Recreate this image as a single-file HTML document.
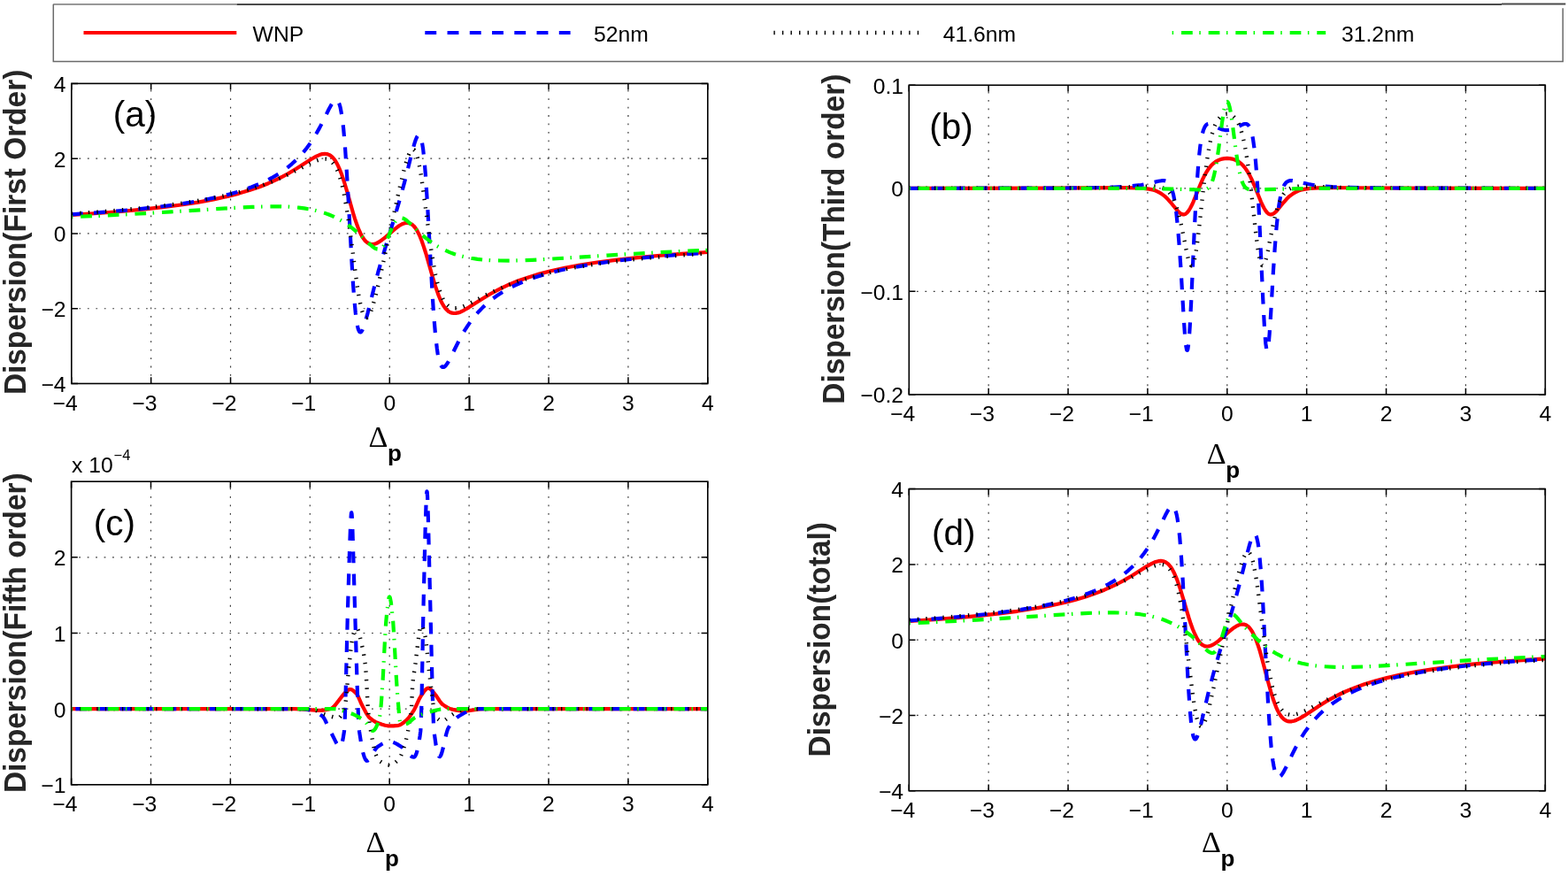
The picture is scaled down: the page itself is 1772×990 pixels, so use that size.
<!DOCTYPE html><html><head><meta charset="utf-8"><title>Dispersion</title><style>html,body{margin:0;padding:0;background:#fff;}svg{display:block;}</style></head><body>
<svg width="1772" height="990" viewBox="0 0 1772 990" font-family="&quot;Liberation Sans&quot;, Arial, Helvetica, sans-serif">
<rect width="1772" height="990" fill="#fff"/>
<g id="legend">
<path d="M60.3 4.9 H267.5" stroke="#8a8a8a" stroke-width="1.6" fill="none"/>
<path d="M267.5 4.9 H1697" stroke="#4a4a4a" stroke-width="2" fill="none"/>
<path d="M1697 4.5 H1769.3" stroke="#4a4a4a" stroke-width="2" fill="none"/>
<path d="M60.3 4.8 V69.4 H1766.2 V9.3" stroke="#6a6a6a" stroke-width="1.5" fill="none"/>
<path d="M94.5 37 H267.3" stroke="#f00" stroke-width="4.2" fill="none"/>
<path d="M480.3 37 H644.6" stroke="#00f" stroke-width="4.2" fill="none" stroke-dasharray="12.9 12.35"/>
<path d="M874.4 37 H1046" stroke="#000" stroke-width="4.4" fill="none" stroke-dasharray="1.4 8.15"/>
<path d="M1324.65 37 H1498.2" stroke="#0f0" stroke-width="4.2" fill="none" stroke-dasharray="1.5 8.9 12.7 7.55"/>
<text transform="translate(285.60,46.60) scale(1.03,1)" font-size="24">WNP</text>
<text transform="translate(671.00,46.60) scale(1.03,1)" font-size="24">52nm</text>
<text transform="translate(1065.70,46.60) scale(1.03,1)" font-size="24">41.6nm</text>
<text transform="translate(1516.00,46.60) scale(1.03,1)" font-size="24">31.2nm</text>
</g>
<g id="axa">
<path d="M170.68 94.40 V433.50 M260.55 94.40 V433.50 M350.43 94.40 V433.50 M440.30 94.40 V433.50 M530.17 94.40 V433.50 M620.05 94.40 V433.50 M709.92 94.40 V433.50" stroke="#3a3a3a" stroke-width="1.2" fill="none" stroke-dasharray="1.8 7.65" stroke-dashoffset="2.1"/>
<path d="M80.80 348.73 H799.80 M80.80 263.95 H799.80 M80.80 179.17 H799.80" stroke="#3a3a3a" stroke-width="1.2" fill="none" stroke-dasharray="1.8 7.65" stroke-dashoffset="0.8"/>
<path d="M80.80 433.50 v-7.2 M80.80 94.40 v7.2 M170.68 433.50 v-7.2 M170.68 94.40 v7.2 M260.55 433.50 v-7.2 M260.55 94.40 v7.2 M350.43 433.50 v-7.2 M350.43 94.40 v7.2 M440.30 433.50 v-7.2 M440.30 94.40 v7.2 M530.17 433.50 v-7.2 M530.17 94.40 v7.2 M620.05 433.50 v-7.2 M620.05 94.40 v7.2 M709.92 433.50 v-7.2 M709.92 94.40 v7.2 M799.80 433.50 v-7.2 M799.80 94.40 v7.2 M80.80 433.50 h7.2 M799.80 433.50 h-7.2 M80.80 348.73 h7.2 M799.80 348.73 h-7.2 M80.80 263.95 h7.2 M799.80 263.95 h-7.2 M80.80 179.17 h7.2 M799.80 179.17 h-7.2 M80.80 94.40 h7.2 M799.80 94.40 h-7.2" stroke="#000" stroke-width="1.5" fill="none"/>
<text transform="translate(87.67,463.50) scale(1.03,1)" font-size="24" text-anchor="end">−4</text>
<text transform="translate(177.55,463.50) scale(1.03,1)" font-size="24" text-anchor="end">−3</text>
<text transform="translate(267.42,463.50) scale(1.03,1)" font-size="24" text-anchor="end">−2</text>
<text transform="translate(357.30,463.50) scale(1.03,1)" font-size="24" text-anchor="end">−1</text>
<text transform="translate(447.17,463.50) scale(1.03,1)" font-size="24" text-anchor="end">0</text>
<text transform="translate(537.05,463.50) scale(1.03,1)" font-size="24" text-anchor="end">1</text>
<text transform="translate(626.92,463.50) scale(1.03,1)" font-size="24" text-anchor="end">2</text>
<text transform="translate(716.80,463.50) scale(1.03,1)" font-size="24" text-anchor="end">3</text>
<text transform="translate(806.67,463.50) scale(1.03,1)" font-size="24" text-anchor="end">4</text>
<text transform="translate(74.60,442.90) scale(1.03,1)" font-size="24" text-anchor="end">−4</text>
<text transform="translate(74.60,358.12) scale(1.03,1)" font-size="24" text-anchor="end">−2</text>
<text transform="translate(74.60,273.35) scale(1.03,1)" font-size="24" text-anchor="end">0</text>
<text transform="translate(74.60,188.57) scale(1.03,1)" font-size="24" text-anchor="end">2</text>
<text transform="translate(74.60,103.80) scale(1.03,1)" font-size="24" text-anchor="end">4</text>
</g>
<g id="curvesa">
<path d="M80.8 242.9 L110.1 241.0 L136.5 239.0 L161.3 236.7 L183.9 234.2 L204.7 231.5 L223.8 228.6 L241.3 225.4 L257.1 221.9 L270.0 218.6 L281.8 215.1 L293.1 211.2 L303.2 207.2 L308.9 204.7 L314.3 202.1 L319.7 199.4 L325.1 196.5 L334.7 190.7 L351.5 180.0 L357.5 176.6 L361.1 175.1 L364.3 174.1 L367.2 173.9 L368.6 174.0 L369.9 174.2 L371.8 174.9 L373.6 175.9 L375.3 177.3 L377.0 179.1 L378.6 181.2 L380.2 183.8 L381.8 186.9 L383.4 190.3 L386.2 197.3 L389.1 206.0 L391.9 215.4 L398.9 240.2 L401.0 247.1 L403.0 252.9 L405.2 258.9 L407.4 263.7 L409.5 267.7 L411.7 270.9 L413.1 272.5 L414.5 273.8 L416.0 274.8 L417.4 275.5 L418.9 275.9 L420.5 276.0 L422.2 275.9 L423.9 275.5 L425.6 274.9 L427.4 274.0 L431.3 271.4 L435.6 268.1 L443.9 260.8 L447.4 257.9 L450.9 255.3 L454.0 253.5 L455.8 252.7 L457.4 252.2 L459.1 251.9 L460.6 251.9 L462.1 252.1 L463.5 252.6 L464.9 253.3 L466.3 254.3 L467.6 255.5 L468.9 257.0 L470.2 258.8 L471.5 260.9 L474.1 266.0 L476.6 272.3 L478.8 278.6 L481.2 286.0 L489.0 313.5 L492.0 323.4 L495.2 332.6 L498.1 339.7 L499.8 343.0 L501.5 345.9 L503.2 348.4 L505.0 350.3 L506.8 351.9 L508.7 353.0 L510.7 353.7 L512.8 354.0 L515.2 353.9 L517.9 353.4 L520.7 352.4 L524.0 350.8 L529.5 347.6 L545.4 337.5 L554.5 332.0 L564.6 326.6 L575.1 321.7 L585.8 317.3 L597.1 313.4 L609.5 309.6 L622.4 306.3 L638.2 302.8 L655.6 299.5 L674.8 296.5 L695.6 293.8 L718.1 291.3 L742.9 289.0 L770.0 286.9 L799.8 285.0" stroke="#f00" stroke-width="4.2" fill="none" stroke-linejoin="round"/>
<path d="M80.8 242.3 L119.7 239.6 L137.7 238.1 L154.6 236.5 L170.3 234.8 L185.5 233.0 L199.6 231.1 L212.6 229.2 L225.0 227.0 L236.2 224.8 L247.5 222.4 L257.6 219.9 L267.2 217.2 L276.2 214.3 L284.7 211.3 L293.1 207.9 L300.4 204.5 L306.8 201.2 L313.0 197.6 L319.0 193.8 L324.5 189.7 L329.8 185.3 L334.8 180.7 L339.6 175.8 L343.2 171.6 L346.7 167.2 L350.2 162.5 L353.4 157.6 L357.3 151.3 L361.2 144.4 L364.8 137.4 L371.6 123.5 L374.4 118.4 L376.0 115.8 L377.4 114.1 L378.7 113.1 L379.3 112.9 L379.9 112.9 L380.5 113.0 L381.2 113.4 L381.8 114.1 L382.3 115.0 L383.4 117.4 L384.5 120.9 L385.4 125.5 L386.4 131.1 L387.3 137.8 L388.2 145.8 L389.9 165.1 L391.6 190.4 L393.3 218.7 L397.7 298.9 L399.0 320.5 L400.3 337.5 L401.8 353.8 L402.6 360.0 L403.4 365.4 L404.2 369.4 L405.0 372.5 L405.9 374.5 L406.4 375.1 L406.8 375.4 L407.5 375.4 L408.1 375.0 L408.8 374.2 L409.5 373.0 L411.1 369.1 L412.9 363.4 L415.6 353.6 L423.2 323.4 L427.3 307.7 L433.3 287.0 L446.0 245.2 L451.7 225.8 L457.4 204.9 L465.9 171.0 L468.5 161.8 L469.6 158.5 L470.6 156.0 L471.5 154.2 L472.3 153.0 L473.1 152.5 L473.9 152.6 L474.6 153.3 L475.3 154.8 L476.1 157.0 L476.8 160.1 L478.2 168.9 L479.5 181.1 L480.9 197.3 L483.2 233.6 L488.7 333.9 L490.4 358.6 L492.0 377.5 L493.8 393.6 L494.7 399.9 L495.6 404.8 L496.6 408.8 L497.7 411.8 L498.9 413.9 L499.5 414.5 L500.1 414.9 L500.6 415.0 L501.2 415.0 L502.4 414.4 L503.8 413.1 L505.3 411.1 L506.8 408.5 L508.7 405.0 L519.0 384.3 L522.0 378.8 L525.0 373.6 L528.9 367.6 L532.9 361.9 L537.0 356.7 L541.4 351.7 L546.1 346.9 L551.0 342.3 L556.3 338.0 L561.8 334.0 L567.7 330.2 L573.9 326.6 L580.7 323.1 L587.5 320.0 L595.9 316.6 L604.4 313.6 L613.4 310.7 L623.0 308.0 L633.1 305.5 L644.4 303.1 L655.6 300.9 L668.0 298.7 L681.0 296.8 L695.1 294.9 L710.3 293.1 L726.0 291.4 L742.9 289.8 L760.9 288.3 L799.8 285.6" stroke="#00f" stroke-width="4.2" fill="none" stroke-linejoin="round" stroke-dasharray="12.9 12.35"/>
<path d="M80.8 241.5 L107.8 239.7 L133.2 237.7 L156.3 235.6 L177.7 233.3 L197.9 230.8 L216.5 228.1 L234.0 225.1 L249.7 222.0 L262.1 219.2 L274.0 216.2 L285.2 213.0 L295.9 209.5 L308.4 204.8 L320.5 199.6 L331.5 194.4 L350.3 184.7 L357.0 181.7 L361.1 180.3 L364.6 179.6 L367.7 179.6 L369.1 179.8 L370.5 180.2 L371.8 180.7 L373.0 181.4 L375.3 183.3 L377.4 185.8 L379.5 189.0 L381.4 193.0 L383.2 197.8 L385.0 203.4 L386.7 209.8 L388.3 216.7 L389.8 224.7 L391.4 233.6 L393.0 243.8 L396.0 264.5 L402.6 315.5 L404.5 328.1 L406.1 338.0 L408.2 347.8 L409.2 351.4 L410.2 354.3 L411.2 356.6 L412.2 358.1 L413.2 359.0 L413.7 359.1 L414.3 359.1 L414.8 358.9 L415.4 358.5 L416.5 357.3 L417.7 355.3 L418.9 352.5 L420.2 349.0 L421.6 344.6 L424.8 333.1 L427.7 321.0 L431.3 305.0 L451.0 215.1 L454.7 199.5 L457.6 188.0 L460.3 179.2 L461.5 175.9 L462.6 173.3 L463.7 171.2 L464.8 169.8 L465.8 169.0 L466.8 168.8 L467.8 169.2 L468.8 170.2 L469.8 172.0 L470.7 174.3 L471.6 177.3 L472.6 181.1 L474.6 190.7 L476.2 200.4 L478.0 212.7 L484.6 263.1 L487.5 283.8 L490.7 302.8 L492.2 310.7 L493.8 317.7 L495.5 324.2 L497.3 329.8 L499.1 334.7 L501.0 338.7 L503.1 342.0 L505.3 344.6 L507.6 346.5 L508.8 347.2 L510.1 347.7 L511.5 348.1 L512.9 348.3 L516.0 348.3 L519.5 347.6 L523.6 346.2 L530.3 343.2 L549.1 333.5 L560.1 328.3 L572.2 323.1 L584.7 318.4 L595.4 314.9 L606.6 311.7 L618.5 308.7 L630.9 305.9 L646.6 302.8 L664.1 299.8 L682.7 297.1 L702.9 294.6 L724.3 292.3 L747.4 290.2 L772.8 288.2 L799.8 286.4" stroke="#000" stroke-width="4.4" fill="none" stroke-linejoin="round" stroke-dasharray="1.4 8.15"/>
<path d="M80.8 245.2 L119.7 243.5 L157.4 241.5 L193.4 239.4 L257.6 235.3 L284.7 233.9 L300.4 233.4 L314.3 233.3 L326.3 233.7 L337.3 234.6 L343.7 235.4 L349.8 236.4 L355.6 237.6 L361.2 239.0 L366.5 240.6 L371.7 242.5 L376.7 244.6 L381.5 247.0 L385.9 249.4 L390.3 252.1 L394.5 255.1 L398.7 258.3 L405.4 264.0 L417.4 275.5 L421.5 279.1 L423.2 280.3 L424.9 281.1 L426.3 281.6 L427.7 281.8 L428.6 281.7 L429.5 281.5 L431.2 280.5 L433.0 278.8 L434.6 276.4 L436.0 273.9 L437.5 270.7 L443.8 255.6 L445.4 252.4 L447.0 249.9 L448.5 248.1 L450.1 246.9 L451.7 246.2 L453.4 246.1 L454.9 246.5 L456.5 247.1 L458.3 248.2 L460.2 249.7 L463.6 252.7 L471.8 260.7 L476.1 264.7 L480.7 268.7 L485.3 272.2 L489.4 275.2 L493.7 277.9 L498.1 280.4 L502.5 282.6 L508.1 285.1 L513.8 287.2 L519.8 289.0 L526.1 290.6 L532.6 291.8 L539.6 292.9 L547.0 293.7 L554.9 294.2 L564.8 294.5 L575.7 294.6 L587.5 294.3 L601.6 293.8 L624.7 292.5 L686.6 288.6 L721.5 286.5 L759.8 284.5 L799.8 282.7" stroke="#0f0" stroke-width="4.2" fill="none" stroke-linejoin="round" stroke-dasharray="1.5 8.9 12.7 7.55"/>
</g>
<rect x="80.80" y="94.40" width="719.00" height="339.10" fill="none" stroke="#000" stroke-width="1.6"/>
<text transform="translate(28.7,262.4) scale(1.025,1) rotate(-90)" font-size="33.4" font-weight="bold" text-anchor="middle" fill="#262626">Dispersion(First Order)</text>
<text x="127.7" y="142.5" font-size="40.5">(a)</text>
<text x="416.6" y="504.5" font-size="34" font-family="&quot;Liberation Serif&quot;, &quot;Times New Roman&quot;, serif">Δ</text>
<text x="438.1" y="521.0" font-size="26" font-weight="bold">p</text>
<g id="axb">
<path d="M1117.17 96.25 V445.90 M1207.05 96.25 V445.90 M1296.92 96.25 V445.90 M1386.80 96.25 V445.90 M1476.67 96.25 V445.90 M1566.55 96.25 V445.90 M1656.42 96.25 V445.90" stroke="#3a3a3a" stroke-width="1.2" fill="none" stroke-dasharray="1.8 7.65" stroke-dashoffset="2.1"/>
<path d="M1027.30 329.35 H1746.30 M1027.30 212.80 H1746.30" stroke="#3a3a3a" stroke-width="1.2" fill="none" stroke-dasharray="1.8 7.65" stroke-dashoffset="0.8"/>
<path d="M1027.30 445.90 v-7.2 M1027.30 96.25 v7.2 M1117.17 445.90 v-7.2 M1117.17 96.25 v7.2 M1207.05 445.90 v-7.2 M1207.05 96.25 v7.2 M1296.92 445.90 v-7.2 M1296.92 96.25 v7.2 M1386.80 445.90 v-7.2 M1386.80 96.25 v7.2 M1476.67 445.90 v-7.2 M1476.67 96.25 v7.2 M1566.55 445.90 v-7.2 M1566.55 96.25 v7.2 M1656.42 445.90 v-7.2 M1656.42 96.25 v7.2 M1746.30 445.90 v-7.2 M1746.30 96.25 v7.2 M1027.30 445.90 h7.2 M1746.30 445.90 h-7.2 M1027.30 329.35 h7.2 M1746.30 329.35 h-7.2 M1027.30 212.80 h7.2 M1746.30 212.80 h-7.2 M1027.30 96.25 h7.2 M1746.30 96.25 h-7.2" stroke="#000" stroke-width="1.5" fill="none"/>
<text transform="translate(1034.17,475.90) scale(1.03,1)" font-size="24" text-anchor="end">−4</text>
<text transform="translate(1124.05,475.90) scale(1.03,1)" font-size="24" text-anchor="end">−3</text>
<text transform="translate(1213.92,475.90) scale(1.03,1)" font-size="24" text-anchor="end">−2</text>
<text transform="translate(1303.80,475.90) scale(1.03,1)" font-size="24" text-anchor="end">−1</text>
<text transform="translate(1393.67,475.90) scale(1.03,1)" font-size="24" text-anchor="end">0</text>
<text transform="translate(1483.55,475.90) scale(1.03,1)" font-size="24" text-anchor="end">1</text>
<text transform="translate(1573.42,475.90) scale(1.03,1)" font-size="24" text-anchor="end">2</text>
<text transform="translate(1663.30,475.90) scale(1.03,1)" font-size="24" text-anchor="end">3</text>
<text transform="translate(1753.17,475.90) scale(1.03,1)" font-size="24" text-anchor="end">4</text>
<text transform="translate(1021.10,455.30) scale(1.03,1)" font-size="24" text-anchor="end">−0.2</text>
<text transform="translate(1021.10,338.75) scale(1.03,1)" font-size="24" text-anchor="end">−0.1</text>
<text transform="translate(1021.10,222.20) scale(1.03,1)" font-size="24" text-anchor="end">0</text>
<text transform="translate(1021.10,105.65) scale(1.03,1)" font-size="24" text-anchor="end">0.1</text>
</g>
<g id="curvesb">
<path d="M1027.3 212.8 L1183.8 212.6 L1272.0 212.1 L1283.9 212.3 L1292.4 212.8 L1298.6 213.6 L1303.7 214.8 L1306.1 215.6 L1308.3 216.6 L1310.4 217.7 L1312.4 218.9 L1316.1 221.6 L1319.7 225.1 L1323.0 228.8 L1329.5 236.8 L1332.2 239.7 L1333.7 241.0 L1335.2 241.8 L1336.5 242.3 L1337.8 242.4 L1338.8 242.2 L1339.7 241.8 L1341.5 240.4 L1343.3 238.2 L1345.2 235.0 L1346.9 231.8 L1348.7 227.8 L1355.9 210.0 L1359.2 202.4 L1361.1 198.6 L1363.0 195.2 L1364.8 192.3 L1366.7 189.6 L1368.8 187.1 L1371.0 184.9 L1373.3 183.1 L1375.8 181.6 L1378.4 180.4 L1381.1 179.6 L1383.9 179.1 L1386.8 178.9 L1389.7 179.1 L1392.5 179.6 L1395.2 180.4 L1397.8 181.6 L1400.2 183.1 L1402.6 184.9 L1404.8 187.1 L1406.9 189.6 L1408.8 192.3 L1410.6 195.2 L1412.5 198.6 L1414.4 202.4 L1417.7 210.0 L1424.9 227.8 L1426.7 231.8 L1428.4 235.0 L1430.3 238.2 L1432.1 240.4 L1433.9 241.8 L1434.8 242.2 L1435.8 242.4 L1437.1 242.3 L1438.4 241.8 L1439.9 241.0 L1441.4 239.7 L1444.1 236.8 L1450.6 228.8 L1453.9 225.1 L1457.5 221.6 L1461.2 218.9 L1463.2 217.7 L1465.3 216.6 L1467.5 215.6 L1469.9 214.8 L1475.0 213.6 L1481.2 212.8 L1489.7 212.3 L1501.6 212.1 L1589.8 212.6 L1746.3 212.8" stroke="#f00" stroke-width="4.2" fill="none" stroke-linejoin="round"/>
<path d="M1027.3 212.8 L1185.0 212.6 L1222.1 212.4 L1247.5 211.9 L1258.7 211.5 L1268.3 211.1 L1276.6 210.5 L1283.9 209.7 L1289.7 209.0 L1295.1 208.0 L1300.3 206.9 L1309.2 204.8 L1312.9 204.2 L1314.6 204.1 L1316.1 204.2 L1317.4 204.6 L1318.6 205.2 L1319.6 205.8 L1320.4 206.6 L1322.1 208.8 L1323.5 211.7 L1324.8 215.5 L1326.1 220.1 L1327.2 225.8 L1328.3 232.4 L1329.3 240.2 L1331.1 257.6 L1332.9 280.4 L1334.6 305.4 L1337.7 359.0 L1339.0 377.9 L1339.7 386.0 L1340.4 391.7 L1341.0 394.9 L1341.3 395.7 L1341.7 395.9 L1342.0 395.5 L1342.4 394.3 L1343.1 389.3 L1343.9 381.1 L1344.7 369.1 L1346.2 340.6 L1349.4 268.4 L1351.0 236.0 L1352.7 206.7 L1354.4 183.6 L1355.4 173.4 L1356.4 164.8 L1357.5 157.7 L1358.7 151.8 L1359.9 147.2 L1361.3 143.9 L1362.0 142.6 L1362.8 141.6 L1363.6 140.8 L1364.5 140.2 L1365.3 140.0 L1366.1 139.9 L1368.1 140.2 L1370.5 141.2 L1376.8 144.6 L1379.6 145.8 L1381.5 146.4 L1383.3 146.8 L1385.1 147.1 L1386.9 147.2 L1390.1 146.9 L1393.3 146.0 L1396.9 144.5 L1402.7 141.4 L1404.6 140.6 L1406.6 140.0 L1408.2 140.0 L1409.2 140.3 L1410.1 140.8 L1410.9 141.7 L1411.7 142.7 L1413.1 145.7 L1414.4 149.8 L1415.3 153.5 L1416.1 157.7 L1417.6 168.4 L1419.0 182.1 L1420.4 199.4 L1421.8 220.5 L1423.1 245.6 L1427.3 338.7 L1428.8 366.8 L1429.6 379.3 L1430.4 388.5 L1431.2 394.1 L1431.5 395.4 L1431.9 395.9 L1432.3 395.7 L1432.6 394.9 L1433.2 391.7 L1433.9 386.0 L1434.6 377.9 L1435.9 359.0 L1439.0 305.4 L1440.7 280.4 L1442.5 257.6 L1444.3 240.2 L1445.3 232.4 L1446.4 225.8 L1447.5 220.1 L1448.8 215.5 L1450.1 211.7 L1451.5 208.8 L1453.2 206.6 L1454.0 205.8 L1455.0 205.2 L1456.2 204.6 L1457.5 204.2 L1459.0 204.1 L1460.7 204.2 L1464.4 204.8 L1473.3 206.9 L1478.5 208.0 L1483.9 209.0 L1489.7 209.7 L1497.0 210.5 L1505.3 211.1 L1514.9 211.5 L1526.1 211.9 L1551.5 212.4 L1588.6 212.6 L1746.3 212.8" stroke="#00f" stroke-width="4.2" fill="none" stroke-linejoin="round" stroke-dasharray="12.9 12.35"/>
<path d="M1027.3 212.8 L1157.9 212.7 L1221.6 212.4 L1259.4 211.9 L1299.6 210.5 L1303.4 210.5 L1306.6 210.7 L1309.4 211.1 L1311.9 211.7 L1314.6 212.6 L1316.9 213.8 L1319.1 215.3 L1321.1 217.3 L1323.0 219.6 L1324.8 222.4 L1326.4 225.6 L1328.0 229.3 L1329.4 233.1 L1330.8 237.5 L1333.5 248.0 L1336.0 259.4 L1340.8 283.4 L1342.7 292.0 L1343.8 295.7 L1344.8 298.2 L1345.7 299.7 L1346.2 300.0 L1346.6 300.2 L1347.3 299.9 L1348.0 299.0 L1348.6 297.7 L1349.3 295.7 L1350.6 290.1 L1352.0 282.0 L1353.2 273.3 L1354.5 262.7 L1359.8 214.4 L1362.4 193.2 L1363.8 182.8 L1365.2 173.7 L1366.6 165.6 L1368.1 158.6 L1369.7 151.8 L1371.5 146.1 L1373.2 141.3 L1375.2 137.3 L1377.3 134.1 L1379.5 131.7 L1380.8 130.7 L1382.0 130.0 L1383.3 129.4 L1384.7 129.0 L1386.2 128.8 L1387.8 128.8 L1389.4 129.1 L1390.9 129.6 L1392.4 130.4 L1393.7 131.4 L1395.0 132.6 L1396.3 134.1 L1397.5 135.8 L1398.6 137.7 L1400.8 142.3 L1402.7 147.9 L1404.6 154.7 L1406.2 161.9 L1407.8 170.3 L1409.3 179.7 L1410.9 190.8 L1413.7 213.3 L1419.2 263.4 L1421.7 282.3 L1423.0 290.1 L1424.3 295.5 L1424.9 297.4 L1425.5 298.9 L1426.1 299.8 L1426.8 300.1 L1427.2 300.1 L1427.7 299.8 L1428.7 298.4 L1429.7 295.8 L1430.8 292.2 L1432.8 283.4 L1437.6 259.4 L1440.1 248.0 L1442.8 237.5 L1444.2 233.1 L1445.7 229.1 L1447.2 225.5 L1448.9 222.3 L1450.6 219.5 L1452.5 217.2 L1454.5 215.3 L1456.7 213.8 L1459.0 212.6 L1461.7 211.7 L1464.2 211.1 L1467.0 210.7 L1470.2 210.5 L1474.0 210.5 L1514.2 211.9 L1552.0 212.4 L1615.7 212.7 L1746.3 212.8" stroke="#000" stroke-width="4.4" fill="none" stroke-linejoin="round" stroke-dasharray="1.4 8.15"/>
<path d="M1027.3 212.8 L1275.3 212.9 L1296.3 213.0 L1313.9 213.3 L1355.8 214.5 L1359.7 214.4 L1362.3 214.0 L1363.9 213.4 L1365.4 212.5 L1366.7 211.2 L1367.9 209.6 L1369.0 207.4 L1370.0 204.9 L1371.0 201.8 L1372.0 198.1 L1373.8 189.7 L1375.6 178.9 L1377.3 167.2 L1381.0 138.8 L1382.9 126.5 L1383.9 121.4 L1384.9 117.8 L1385.8 115.7 L1386.3 115.1 L1386.8 114.9 L1387.2 115.0 L1387.7 115.6 L1388.7 117.7 L1389.7 121.4 L1390.7 126.5 L1392.6 138.8 L1396.3 167.2 L1398.0 178.9 L1399.8 189.7 L1401.6 198.1 L1402.6 201.8 L1403.6 204.9 L1404.6 207.4 L1405.7 209.6 L1406.9 211.2 L1408.2 212.5 L1409.7 213.4 L1411.3 214.0 L1413.9 214.4 L1417.8 214.5 L1459.7 213.3 L1477.3 213.0 L1498.3 212.9 L1746.3 212.8" stroke="#0f0" stroke-width="4.2" fill="none" stroke-linejoin="round" stroke-dasharray="1.5 8.9 12.7 7.55"/>
</g>
<rect x="1027.30" y="96.25" width="719.00" height="349.65" fill="none" stroke="#000" stroke-width="1.6"/>
<text transform="translate(953.9,270.2) scale(1.025,1) rotate(-90)" font-size="33.4" font-weight="bold" text-anchor="middle" fill="#262626">Dispersion(Third order)</text>
<text x="1050.2" y="157.3" font-size="40.5">(b)</text>
<text x="1363.8" y="523.6" font-size="34" font-family="&quot;Liberation Serif&quot;, &quot;Times New Roman&quot;, serif">Δ</text>
<text x="1385.3" y="540.1" font-size="26" font-weight="bold">p</text>
<g id="axc">
<path d="M170.50 544.20 V886.80 M260.40 544.20 V886.80 M350.30 544.20 V886.80 M440.20 544.20 V886.80 M530.10 544.20 V886.80 M620.00 544.20 V886.80 M709.90 544.20 V886.80" stroke="#3a3a3a" stroke-width="1.2" fill="none" stroke-dasharray="1.8 7.65" stroke-dashoffset="2.1"/>
<path d="M80.60 801.15 H799.80 M80.60 715.50 H799.80 M80.60 629.85 H799.80" stroke="#3a3a3a" stroke-width="1.2" fill="none" stroke-dasharray="1.8 7.65" stroke-dashoffset="0.8"/>
<path d="M80.60 886.80 v-7.2 M80.60 544.20 v7.2 M170.50 886.80 v-7.2 M170.50 544.20 v7.2 M260.40 886.80 v-7.2 M260.40 544.20 v7.2 M350.30 886.80 v-7.2 M350.30 544.20 v7.2 M440.20 886.80 v-7.2 M440.20 544.20 v7.2 M530.10 886.80 v-7.2 M530.10 544.20 v7.2 M620.00 886.80 v-7.2 M620.00 544.20 v7.2 M709.90 886.80 v-7.2 M709.90 544.20 v7.2 M799.80 886.80 v-7.2 M799.80 544.20 v7.2 M80.60 886.80 h7.2 M799.80 886.80 h-7.2 M80.60 801.15 h7.2 M799.80 801.15 h-7.2 M80.60 715.50 h7.2 M799.80 715.50 h-7.2 M80.60 629.85 h7.2 M799.80 629.85 h-7.2" stroke="#000" stroke-width="1.5" fill="none"/>
<text transform="translate(87.47,916.80) scale(1.03,1)" font-size="24" text-anchor="end">−4</text>
<text transform="translate(177.37,916.80) scale(1.03,1)" font-size="24" text-anchor="end">−3</text>
<text transform="translate(267.27,916.80) scale(1.03,1)" font-size="24" text-anchor="end">−2</text>
<text transform="translate(357.17,916.80) scale(1.03,1)" font-size="24" text-anchor="end">−1</text>
<text transform="translate(447.07,916.80) scale(1.03,1)" font-size="24" text-anchor="end">0</text>
<text transform="translate(536.97,916.80) scale(1.03,1)" font-size="24" text-anchor="end">1</text>
<text transform="translate(626.87,916.80) scale(1.03,1)" font-size="24" text-anchor="end">2</text>
<text transform="translate(716.77,916.80) scale(1.03,1)" font-size="24" text-anchor="end">3</text>
<text transform="translate(806.67,916.80) scale(1.03,1)" font-size="24" text-anchor="end">4</text>
<text transform="translate(74.40,896.20) scale(1.03,1)" font-size="24" text-anchor="end">−1</text>
<text transform="translate(74.40,810.55) scale(1.03,1)" font-size="24" text-anchor="end">0</text>
<text transform="translate(74.40,724.90) scale(1.03,1)" font-size="24" text-anchor="end">1</text>
<text transform="translate(74.40,639.25) scale(1.03,1)" font-size="24" text-anchor="end">2</text>
</g>
<g id="curvesc">
<path d="M80.6 801.1 L332.8 801.2 L339.5 801.4 L355.6 802.7 L360.2 802.9 L363.3 802.8 L367.0 802.4 L370.8 801.6 L374.4 800.7 L375.8 799.9 L377.2 798.7 L378.7 797.0 L387.9 785.1 L389.5 783.3 L392.2 780.9 L393.6 779.8 L394.8 779.1 L395.9 779.0 L397.4 779.3 L399.1 780.4 L401.3 782.4 L403.4 784.7 L405.1 787.8 L408.8 796.3 L413.8 805.7 L415.1 807.9 L416.3 809.6 L417.3 810.8 L418.7 812.0 L421.7 814.3 L424.7 816.1 L427.5 817.3 L431.8 818.8 L435.2 819.8 L438.1 820.3 L440.3 820.4 L444.6 820.3 L450.2 819.8 L451.3 819.5 L452.5 819.0 L454.1 818.1 L455.9 816.8 L459.6 813.6 L460.9 812.3 L462.3 810.6 L464.0 808.3 L468.1 802.1 L469.7 798.8 L473.6 790.3 L475.5 786.9 L479.0 781.8 L480.7 779.6 L482.4 778.2 L483.2 777.8 L483.9 777.7 L484.8 777.8 L485.7 778.3 L486.8 779.1 L487.9 780.2 L493.0 786.4 L497.0 792.5 L498.4 794.3 L499.7 795.7 L501.4 796.9 L503.6 798.4 L505.7 799.6 L507.8 800.6 L509.9 801.4 L511.9 801.9 L515.5 802.6 L520.9 803.4 L523.9 803.5 L527.7 803.3 L541.8 801.5 L547.7 801.2 L799.8 801.1" stroke="#f00" stroke-width="4.2" fill="none" stroke-linejoin="round"/>
<path d="M80.6 801.1 L341.4 801.2 L345.5 801.4 L347.8 801.9 L350.2 802.5 L355.1 804.2 L357.9 805.5 L360.7 807.0 L363.8 808.9 L364.7 809.7 L366.0 811.4 L367.5 814.0 L372.2 824.2 L374.9 829.2 L378.7 836.9 L380.3 840.0 L381.6 841.9 L382.8 843.2 L383.9 843.9 L384.5 844.0 L384.8 843.8 L385.5 842.9 L386.2 841.0 L386.9 838.3 L387.7 834.5 L389.0 826.4 L389.6 818.3 L390.6 785.2 L393.0 688.2 L395.2 617.5 L396.3 588.6 L396.8 581.5 L397.0 579.8 L397.2 579.3 L397.6 581.0 L397.9 585.3 L398.5 601.6 L403.7 776.3 L405.1 813.0 L405.6 821.7 L406.1 827.0 L408.3 840.9 L409.3 846.5 L410.4 851.1 L411.7 855.5 L413.0 858.4 L413.7 859.2 L414.2 859.7 L414.8 859.8 L415.6 859.6 L416.9 858.7 L418.3 857.0 L419.8 854.6 L423.9 847.3 L425.2 845.5 L426.3 844.3 L431.0 841.2 L434.7 839.3 L436.4 838.6 L437.9 838.2 L439.5 838.0 L440.9 838.0 L443.3 838.5 L445.9 839.5 L448.6 840.9 L454.0 844.2 L455.2 845.1 L456.5 846.3 L461.7 852.0 L464.0 854.1 L465.2 855.0 L466.4 855.5 L467.6 855.7 L468.3 855.5 L468.8 855.0 L469.3 854.3 L470.3 852.3 L471.3 849.2 L472.3 845.2 L473.4 839.1 L474.6 831.6 L475.3 826.2 L475.6 821.8 L476.5 792.7 L478.4 690.3 L480.7 594.4 L481.7 564.6 L482.1 557.6 L482.4 555.3 L482.6 555.6 L482.8 556.9 L483.1 561.5 L483.8 582.9 L488.6 777.6 L489.3 801.4 L489.9 817.0 L490.5 826.7 L491.7 835.4 L492.7 842.4 L493.7 847.4 L494.6 851.1 L495.5 853.6 L495.9 854.4 L496.4 854.9 L496.7 855.1 L497.0 855.1 L497.8 854.4 L498.5 853.0 L499.3 850.7 L500.8 845.1 L504.2 830.0 L505.8 824.6 L506.7 822.6 L509.8 817.9 L511.9 815.2 L514.1 812.9 L516.4 810.9 L518.7 809.2 L524.3 806.0 L528.5 803.8 L532.3 802.3 L535.8 801.5 L539.1 801.2 L799.8 801.1" stroke="#00f" stroke-width="4.2" fill="none" stroke-linejoin="round" stroke-dasharray="12.9 12.35" stroke-dashoffset="20.51"/>
<path d="M80.6 801.1 L350.6 801.2 L352.8 801.4 L355.3 802.2 L357.6 803.2 L364.6 806.5 L370.9 808.8 L379.2 811.0 L381.3 811.4 L382.8 811.4 L383.7 810.9 L384.6 809.9 L385.6 808.5 L386.5 806.6 L388.5 801.3 L390.5 794.2 L390.9 791.2 L391.4 786.4 L393.7 759.0 L396.3 735.4 L397.8 724.2 L398.8 718.9 L399.7 715.7 L400.8 713.2 L401.8 711.6 L402.6 710.6 L403.4 710.4 L404.0 710.9 L404.7 712.2 L405.4 714.4 L406.3 717.6 L409.7 732.3 L410.9 738.2 L411.9 744.5 L413.0 753.2 L413.7 760.7 L415.7 798.4 L416.1 803.6 L416.6 809.0 L417.6 817.0 L418.7 824.2 L421.7 840.9 L423.3 848.4 L424.2 851.5 L425.9 855.8 L427.1 858.3 L428.3 859.7 L432.0 862.1 L433.7 863.0 L435.5 863.7 L437.2 864.2 L438.9 864.5 L440.5 864.5 L441.8 864.3 L443.1 863.9 L444.4 863.3 L447.1 861.4 L448.9 859.8 L450.8 857.7 L451.8 856.7 L452.5 855.4 L454.1 851.9 L456.0 846.4 L458.6 837.3 L460.3 830.4 L463.3 814.3 L464.6 804.9 L465.1 798.3 L466.2 774.3 L467.0 766.4 L469.4 750.6 L472.5 724.5 L473.8 715.5 L474.4 711.9 L475.0 709.1 L475.6 707.5 L475.9 707.1 L476.1 706.9 L476.6 707.1 L477.2 707.8 L478.3 710.7 L480.0 716.8 L481.2 722.7 L482.2 731.2 L484.4 753.5 L486.6 772.6 L489.4 794.8 L490.6 802.1 L492.0 807.8 L492.6 809.6 L493.2 810.7 L494.4 812.0 L495.9 813.2 L497.2 814.1 L498.5 814.6 L499.5 814.8 L500.5 814.8 L501.3 814.6 L502.3 814.2 L503.8 813.1 L507.8 809.8 L512.5 806.8 L514.7 805.6 L520.0 803.4 L523.4 802.3 L526.5 801.5 L529.3 801.2 L799.8 801.1" stroke="#000" stroke-width="4.4" fill="none" stroke-linejoin="round" stroke-dasharray="1.4 8.15"/>
<path d="M80.6 801.1 L378.5 801.2 L380.8 801.5 L383.4 802.1 L393.9 805.2 L399.8 807.5 L404.9 810.1 L408.8 812.5 L412.3 815.2 L414.0 817.1 L417.5 822.4 L419.0 824.3 L419.9 825.2 L420.6 825.7 L421.4 825.9 L422.0 825.8 L423.0 825.1 L424.2 823.5 L425.5 820.9 L427.2 817.0 L428.0 814.6 L428.8 811.7 L429.5 807.8 L430.0 804.8 L430.9 793.8 L432.7 767.1 L435.2 718.8 L436.2 703.2 L437.4 690.4 L438.6 680.9 L439.4 676.0 L439.8 674.8 L440.2 674.4 L440.5 674.7 L440.9 675.9 L441.8 680.4 L442.7 688.1 L444.2 702.3 L445.3 719.3 L447.8 764.7 L448.9 781.8 L451.3 810.3 L452.0 815.8 L452.4 817.1 L452.7 817.7 L454.6 818.0 L456.7 818.2 L458.4 818.3 L459.5 818.0 L460.7 817.5 L462.0 816.6 L466.6 812.7 L468.4 811.3 L472.5 809.3 L476.8 807.4 L481.5 805.7 L492.1 802.7 L497.2 801.7 L501.6 801.2 L799.8 801.1" stroke="#0f0" stroke-width="4.2" fill="none" stroke-linejoin="round" stroke-dasharray="1.5 8.9 12.7 7.55"/>
</g>
<rect x="80.60" y="544.20" width="719.20" height="342.60" fill="none" stroke="#000" stroke-width="1.6"/>
<text transform="translate(28.5,715.2) scale(1.025,1) rotate(-90)" font-size="33.4" font-weight="bold" text-anchor="middle" fill="#262626">Dispersion(Fifth order)</text>
<text x="105.7" y="605.3" font-size="40.5">(c)</text>
<text x="413.4" y="962.8" font-size="34" font-family="&quot;Liberation Serif&quot;, &quot;Times New Roman&quot;, serif">Δ</text>
<text x="434.9" y="979.3" font-size="26" font-weight="bold">p</text>
<g id="axd">
<path d="M1117.17 552.60 V893.70 M1207.05 552.60 V893.70 M1296.92 552.60 V893.70 M1386.80 552.60 V893.70 M1476.67 552.60 V893.70 M1566.55 552.60 V893.70 M1656.42 552.60 V893.70" stroke="#3a3a3a" stroke-width="1.2" fill="none" stroke-dasharray="1.8 7.65" stroke-dashoffset="2.1"/>
<path d="M1027.30 808.43 H1746.30 M1027.30 723.15 H1746.30 M1027.30 637.88 H1746.30" stroke="#3a3a3a" stroke-width="1.2" fill="none" stroke-dasharray="1.8 7.65" stroke-dashoffset="0.8"/>
<path d="M1027.30 893.70 v-7.2 M1027.30 552.60 v7.2 M1117.17 893.70 v-7.2 M1117.17 552.60 v7.2 M1207.05 893.70 v-7.2 M1207.05 552.60 v7.2 M1296.92 893.70 v-7.2 M1296.92 552.60 v7.2 M1386.80 893.70 v-7.2 M1386.80 552.60 v7.2 M1476.67 893.70 v-7.2 M1476.67 552.60 v7.2 M1566.55 893.70 v-7.2 M1566.55 552.60 v7.2 M1656.42 893.70 v-7.2 M1656.42 552.60 v7.2 M1746.30 893.70 v-7.2 M1746.30 552.60 v7.2 M1027.30 893.70 h7.2 M1746.30 893.70 h-7.2 M1027.30 808.43 h7.2 M1746.30 808.43 h-7.2 M1027.30 723.15 h7.2 M1746.30 723.15 h-7.2 M1027.30 637.88 h7.2 M1746.30 637.88 h-7.2 M1027.30 552.60 h7.2 M1746.30 552.60 h-7.2" stroke="#000" stroke-width="1.5" fill="none"/>
<text transform="translate(1034.17,923.70) scale(1.03,1)" font-size="24" text-anchor="end">−4</text>
<text transform="translate(1124.05,923.70) scale(1.03,1)" font-size="24" text-anchor="end">−3</text>
<text transform="translate(1213.92,923.70) scale(1.03,1)" font-size="24" text-anchor="end">−2</text>
<text transform="translate(1303.80,923.70) scale(1.03,1)" font-size="24" text-anchor="end">−1</text>
<text transform="translate(1393.67,923.70) scale(1.03,1)" font-size="24" text-anchor="end">0</text>
<text transform="translate(1483.55,923.70) scale(1.03,1)" font-size="24" text-anchor="end">1</text>
<text transform="translate(1573.42,923.70) scale(1.03,1)" font-size="24" text-anchor="end">2</text>
<text transform="translate(1663.30,923.70) scale(1.03,1)" font-size="24" text-anchor="end">3</text>
<text transform="translate(1753.17,923.70) scale(1.03,1)" font-size="24" text-anchor="end">4</text>
<text transform="translate(1021.10,903.10) scale(1.03,1)" font-size="24" text-anchor="end">−4</text>
<text transform="translate(1021.10,817.83) scale(1.03,1)" font-size="24" text-anchor="end">−2</text>
<text transform="translate(1021.10,732.55) scale(1.03,1)" font-size="24" text-anchor="end">0</text>
<text transform="translate(1021.10,647.27) scale(1.03,1)" font-size="24" text-anchor="end">2</text>
<text transform="translate(1021.10,562.00) scale(1.03,1)" font-size="24" text-anchor="end">4</text>
</g>
<g id="curvesd">
<path d="M1027.3 702.0 L1056.0 700.1 L1082.5 698.1 L1106.7 695.8 L1129.2 693.4 L1149.5 690.8 L1168.6 687.8 L1186.1 684.6 L1201.9 681.2 L1214.8 677.9 L1226.6 674.4 L1237.9 670.6 L1248.0 666.7 L1253.7 664.2 L1259.1 661.7 L1264.4 659.0 L1269.8 656.1 L1279.4 650.5 L1296.2 639.9 L1302.2 636.6 L1305.9 635.0 L1309.1 634.2 L1312.0 633.9 L1314.7 634.3 L1316.4 634.9 L1318.1 635.8 L1319.8 637.1 L1321.4 638.7 L1323.0 640.7 L1324.5 643.0 L1326.0 645.7 L1327.5 648.7 L1330.3 655.4 L1333.2 663.7 L1336.0 672.8 L1343.5 698.2 L1345.8 705.3 L1348.0 711.2 L1350.6 717.3 L1353.1 722.1 L1354.3 724.1 L1355.6 725.8 L1356.9 727.2 L1358.2 728.4 L1359.6 729.3 L1361.0 729.9 L1362.4 730.4 L1363.9 730.5 L1365.4 730.5 L1367.0 730.1 L1368.8 729.5 L1370.6 728.7 L1373.7 726.8 L1377.2 724.1 L1389.1 713.7 L1393.2 710.3 L1397.2 707.7 L1399.0 706.8 L1400.7 706.1 L1402.4 705.6 L1404.1 705.5 L1405.7 705.6 L1407.2 706.0 L1408.7 706.7 L1410.1 707.7 L1411.5 708.9 L1412.8 710.5 L1415.1 713.8 L1417.3 718.1 L1419.6 723.5 L1421.9 729.9 L1423.9 736.2 L1426.0 743.8 L1433.3 771.3 L1436.2 781.8 L1439.3 791.6 L1442.2 799.3 L1443.9 803.1 L1445.7 806.4 L1447.5 809.1 L1449.3 811.3 L1451.1 813.0 L1453.1 814.3 L1455.1 815.1 L1457.3 815.4 L1459.7 815.3 L1462.3 814.8 L1465.1 813.7 L1468.4 812.1 L1473.9 808.9 L1489.7 798.4 L1498.8 792.7 L1503.9 789.8 L1509.0 787.1 L1514.2 784.5 L1519.5 782.0 L1525.0 779.6 L1530.6 777.4 L1541.9 773.3 L1554.3 769.5 L1567.2 766.1 L1583.6 762.4 L1601.0 759.1 L1620.2 756.1 L1641.0 753.3 L1664.1 750.7 L1688.9 748.4 L1716.5 746.3 L1746.3 744.3" stroke="#f00" stroke-width="4.2" fill="none" stroke-linejoin="round"/>
<path d="M1027.3 701.4 L1047.6 700.0 L1066.2 698.6 L1084.2 697.1 L1101.1 695.5 L1116.8 693.9 L1131.5 692.1 L1145.6 690.2 L1158.5 688.2 L1170.9 686.1 L1182.2 683.9 L1193.4 681.4 L1203.6 678.9 L1213.1 676.2 L1222.1 673.3 L1230.6 670.3 L1238.5 667.1 L1245.2 664.0 L1252.1 660.5 L1258.3 656.9 L1264.2 653.1 L1269.7 649.1 L1275.0 644.8 L1279.9 640.2 L1284.6 635.4 L1288.9 630.5 L1293.0 625.2 L1297.0 619.6 L1300.8 613.5 L1303.8 608.4 L1306.8 602.8 L1317.1 582.1 L1318.9 578.7 L1320.4 576.2 L1321.9 574.1 L1323.2 572.9 L1324.4 572.3 L1324.9 572.3 L1325.5 572.4 L1326.1 572.8 L1326.6 573.3 L1327.7 575.2 L1328.7 578.0 L1329.7 581.6 L1330.6 586.2 L1331.5 592.1 L1333.2 607.0 L1334.8 627.0 L1336.5 652.5 L1338.1 681.9 L1342.2 762.4 L1343.5 783.8 L1344.6 800.5 L1346.1 816.9 L1346.8 822.7 L1347.6 827.6 L1348.3 831.2 L1349.2 833.8 L1350.0 835.2 L1350.5 835.4 L1350.9 835.5 L1351.4 835.2 L1351.9 834.6 L1352.9 832.7 L1354.1 829.6 L1355.5 825.1 L1357.9 815.5 L1365.8 782.1 L1371.0 762.3 L1377.2 740.4 L1390.2 697.4 L1396.0 677.6 L1401.2 658.5 L1409.5 625.4 L1412.2 615.4 L1414.0 609.7 L1415.5 606.0 L1416.2 604.8 L1416.9 604.0 L1417.5 603.7 L1418.1 603.7 L1418.6 604.1 L1419.1 604.7 L1420.0 606.7 L1420.8 609.9 L1421.7 614.1 L1422.5 619.6 L1423.2 626.1 L1424.8 643.7 L1426.1 661.8 L1427.4 684.8 L1431.7 769.2 L1433.3 798.7 L1435.0 824.3 L1436.6 844.2 L1437.5 852.6 L1438.4 859.5 L1439.4 865.4 L1440.3 869.9 L1441.3 873.5 L1442.4 876.0 L1443.0 876.9 L1443.6 877.6 L1444.2 878.0 L1444.9 878.2 L1445.5 878.1 L1446.1 877.9 L1447.4 876.9 L1448.8 875.1 L1450.5 872.5 L1453.4 867.0 L1460.3 852.7 L1463.9 845.5 L1467.9 838.3 L1471.7 831.8 L1475.0 826.7 L1478.5 821.9 L1482.0 817.4 L1485.7 813.1 L1490.4 808.1 L1495.4 803.3 L1500.7 798.9 L1506.3 794.7 L1512.3 790.7 L1518.6 787.0 L1525.0 783.6 L1532.3 780.1 L1540.8 776.6 L1549.2 773.5 L1558.2 770.6 L1567.8 767.9 L1577.9 765.3 L1589.2 762.8 L1601.0 760.5 L1613.4 758.3 L1626.9 756.2 L1641.0 754.3 L1656.2 752.5 L1672.0 750.8 L1688.9 749.2 L1706.9 747.7 L1726.0 746.3 L1746.3 744.9" stroke="#00f" stroke-width="4.2" fill="none" stroke-linejoin="round" stroke-dasharray="12.9 12.35"/>
<path d="M1027.3 700.5 L1054.3 698.7 L1079.7 696.7 L1103.3 694.5 L1124.7 692.2 L1144.4 689.8 L1163.0 687.0 L1180.5 684.1 L1196.2 680.9 L1209.2 678.0 L1221.0 674.9 L1232.3 671.6 L1243.0 668.0 L1255.3 663.3 L1267.2 658.1 L1278.0 652.8 L1296.4 643.1 L1302.9 640.1 L1306.8 638.8 L1310.2 638.1 L1313.2 638.1 L1314.6 638.3 L1316.0 638.7 L1317.2 639.2 L1318.4 639.9 L1320.7 641.8 L1322.7 644.4 L1324.7 647.7 L1326.6 651.8 L1328.3 656.7 L1330.1 662.5 L1331.7 669.0 L1333.2 676.1 L1334.7 684.1 L1336.2 693.4 L1337.7 703.7 L1340.6 725.2 L1346.9 777.2 L1348.6 789.7 L1350.1 799.8 L1352.0 809.4 L1353.0 813.2 L1353.9 816.2 L1354.9 818.4 L1355.8 820.0 L1356.8 820.8 L1357.2 821.0 L1357.7 821.0 L1358.7 820.4 L1359.7 819.3 L1360.8 817.4 L1361.8 815.0 L1363.0 811.8 L1364.2 807.9 L1366.9 797.6 L1371.4 777.5 L1383.3 721.0 L1390.6 687.5 L1396.0 663.5 L1400.1 646.9 L1403.1 636.5 L1404.5 632.6 L1405.8 629.4 L1407.0 626.9 L1408.2 625.2 L1409.3 624.2 L1409.9 624.0 L1410.4 623.9 L1411.5 624.3 L1412.4 625.4 L1413.4 627.1 L1414.4 629.4 L1415.3 632.3 L1416.3 636.1 L1418.2 645.6 L1419.9 655.3 L1421.6 667.5 L1428.2 718.6 L1431.2 740.1 L1432.8 750.6 L1434.5 759.8 L1436.1 768.0 L1437.7 775.4 L1439.5 782.2 L1441.4 788.2 L1443.4 793.2 L1445.4 797.6 L1447.6 801.1 L1449.9 803.8 L1451.1 804.9 L1452.4 805.8 L1453.7 806.6 L1455.0 807.2 L1457.7 807.8 L1460.6 807.9 L1463.8 807.4 L1467.5 806.4 L1471.3 804.9 L1475.8 802.9 L1494.7 793.2 L1504.5 788.5 L1514.1 784.3 L1523.9 780.5 L1536.3 776.1 L1549.2 772.2 L1563.3 768.5 L1577.9 765.2 L1593.7 762.1 L1611.1 759.1 L1629.7 756.4 L1649.4 754.0 L1670.8 751.7 L1693.9 749.6 L1719.3 747.6 L1746.3 745.8" stroke="#000" stroke-width="4.4" fill="none" stroke-linejoin="round" stroke-dasharray="1.4 8.15"/>
<path d="M1027.3 704.3 L1066.2 702.6 L1103.9 700.6 L1139.9 698.4 L1204.1 694.3 L1230.0 692.9 L1245.8 692.4 L1259.4 692.3 L1271.3 692.7 L1282.1 693.5 L1288.5 694.2 L1294.6 695.2 L1300.4 696.3 L1306.0 697.7 L1311.4 699.2 L1316.5 701.0 L1321.4 703.1 L1326.2 705.3 L1330.1 707.4 L1333.8 709.6 L1337.6 712.0 L1341.2 714.6 L1345.5 718.0 L1349.9 721.7 L1354.0 725.5 L1361.4 732.7 L1364.3 735.3 L1366.0 736.5 L1367.5 737.4 L1368.8 737.9 L1370.1 738.0 L1370.9 737.9 L1371.7 737.6 L1373.2 736.6 L1374.7 734.9 L1376.2 732.4 L1377.7 729.2 L1379.3 725.0 L1385.0 706.8 L1387.4 700.3 L1388.8 697.5 L1390.1 695.6 L1391.5 694.5 L1392.1 694.3 L1392.8 694.2 L1393.7 694.4 L1394.6 694.8 L1395.5 695.5 L1396.6 696.5 L1398.5 698.6 L1404.0 705.4 L1407.6 709.4 L1414.3 716.3 L1420.8 722.6 L1425.2 726.5 L1429.5 730.0 L1433.8 733.2 L1438.2 736.2 L1443.3 739.2 L1448.5 741.8 L1453.9 744.2 L1459.5 746.3 L1465.3 748.1 L1471.4 749.7 L1477.7 751.0 L1484.5 752.1 L1490.0 752.7 L1495.9 753.2 L1508.5 753.9 L1522.7 754.0 L1539.6 753.5 L1567.8 752.1 L1634.8 747.8 L1670.8 745.7 L1708.0 743.7 L1746.3 742.0" stroke="#0f0" stroke-width="4.2" fill="none" stroke-linejoin="round" stroke-dasharray="1.5 8.9 12.7 7.55"/>
</g>
<rect x="1027.30" y="552.60" width="719.00" height="341.10" fill="none" stroke="#000" stroke-width="1.6"/>
<text transform="translate(937.8,722.8) scale(1.025,1) rotate(-90)" font-size="33.4" font-weight="bold" text-anchor="middle" fill="#262626">Dispersion(total)</text>
<text x="1053.1" y="616.3" font-size="40.5">(d)</text>
<text x="1358.1" y="962.8" font-size="34" font-family="&quot;Liberation Serif&quot;, &quot;Times New Roman&quot;, serif">Δ</text>
<text x="1379.6" y="979.3" font-size="26" font-weight="bold">p</text>
<text transform="translate(81.00,534.30) scale(1.03,1)" font-size="24">x</text>
<text transform="translate(100.30,534.30) scale(1.03,1)" font-size="24">10</text>
<text transform="translate(128.60,519.80) scale(1.03,1)" font-size="16">−4</text>
</svg></body></html>
